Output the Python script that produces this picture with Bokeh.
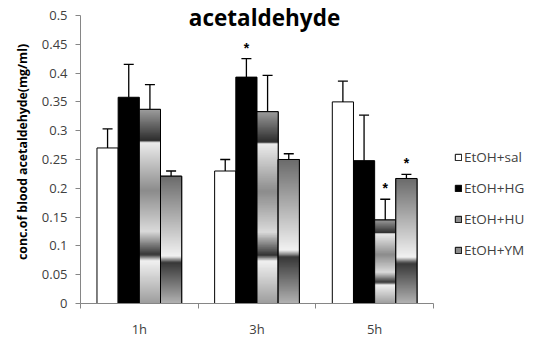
import numpy as np
from bokeh.plotting import figure
from bokeh.models import (FixedTicker, Label, Legend, LegendItem, Whisker,
                          ColumnDataSource, TeeHead)
from bokeh.embed import file_html
from bokeh.resources import INLINE

# ---- data ----
groups = ["1h", "3h", "5h"]
series = ["EtOH+sal", "EtOH+HG", "EtOH+HU", "EtOH+YM"]
sal = [0.270, 0.230, 0.350]
hg = [0.358, 0.393, 0.248]
hu = [0.337, 0.333, 0.145]
ym = [0.221, 0.250, 0.217]
sal_err = [0.033, 0.020, 0.036]
hg_err = [0.057, 0.032, 0.079]
hu_err = [0.043, 0.063, 0.036]
ym_err = [0.009, 0.010, 0.007]
# significance markers (*)
hg_sig = [False, True, False]
hu_sig = [False, False, True]
ym_sig = [False, False, True]
y_ticks = [0, 0.05, 0.1, 0.15, 0.2, 0.25, 0.3, 0.35, 0.4, 0.45, 0.5]
y_labels = ["0", "0.05", "0.1", "0.15", "0.2", "0.25", "0.3", "0.35", "0.4", "0.45", "0.5"]

values = [sal, hg, hu, ym]
errs = [sal_err, hg_err, hu_err, ym_err]
sigs = [[False] * 3, hg_sig, hu_sig, ym_sig]

# ---- style ----
bar_w = 0.18
offsets = [-0.27, -0.09, 0.09, 0.27]
fills = ["white", "black", "#8c8c8c", "#8c8c8c"]
axis_col = "#868686"
txt_col = "#404040"

# gradient profiles (fraction from top, grey level)
profiles = {
    2: [(0, 0.62), (0.16, 0.18), (0.17, 0.93), (0.42, 0.55), (0.63, 0.86),
        (0.75, 0.2), (0.78, 0.95), (1.0, 0.62)],
    3: [(0, 0.42), (0.63, 0.95), (0.68, 0.22), (1.0, 0.7)],
}


def grad_image(stops, n=300):
    t = np.linspace(0, 1, n)
    ts = [s[0] for s in stops]
    gs = [s[1] for s in stops]
    g = np.interp(t, ts, gs)[::-1]  # row 0 is bottom
    g8 = (g * 255).astype(np.uint32)
    img = (255 << 24) | (g8 << 16) | (g8 << 8) | g8
    return img.reshape(n, 1).astype(np.uint32)


# frame spans to the right/top edge so legend and title are inside it;
# axes are bounded to the data region.
p = figure(width=533, height=340, x_range=(0, 3.85), y_range=(0, 0.526),
           output_backend="svg", toolbar_location=None, title=None,
           min_border_left=80, min_border_right=0, min_border_top=0,
           min_border_bottom=37)
p.outline_line_color = None
p.xgrid.visible = False
p.ygrid.visible = False
p.background_fill_color = "white"

centers = np.arange(len(groups)) + 0.5
legend_items = []
for i, name in enumerate(series):
    xs = centers + offsets[i]
    src = ColumnDataSource(dict(x=xs, top=values[i],
                                upper=np.array(values[i]) + np.array(errs[i])))
    r = p.vbar(x="x", top="top", width=bar_w, source=src, fill_color=fills[i],
               line_color="black", line_width=1)
    legend_items.append(LegendItem(label=name, renderers=[r]))
    if i in profiles:
        img = grad_image(profiles[i])
        p.image_rgba(image=[img] * len(groups), x=list(xs - bar_w / 2),
                     y=[0] * len(groups), dw=[bar_w] * len(groups),
                     dh=list(values[i]))
        p.vbar(x="x", top="top", width=bar_w, source=src, fill_alpha=0,
               line_color="black", line_width=1)
    w = Whisker(base="x", lower="top", upper="upper", source=src,
                dimension="height", line_color="black", line_width=1.3,
                upper_head=TeeHead(size=10, line_color="black", line_width=1.3),
                lower_head=None)
    p.add_layout(w)
    sx = [x for x, s in zip(xs, sigs[i]) if s]
    sy = [u for u, s in zip(src.data["upper"], sigs[i]) if s]
    if sx:
        p.text(x=sx, y=sy, text=["*"] * len(sx), text_align="center",
               text_baseline="middle", y_offset=-11, text_font_size="14px",
               text_font_style="bold", text_color="black")

# axes
p.xaxis.bounds = (0, 3)
p.xaxis.ticker = FixedTicker(ticks=list(centers), minor_ticks=[0, 1, 2, 3])
p.xaxis.major_label_overrides = {float(c): g for c, g in zip(centers, groups)}
p.xaxis.major_tick_out = 0
p.xaxis.major_tick_in = 0
p.xaxis.minor_tick_out = 5
p.xaxis.minor_tick_in = 0
p.xaxis.minor_tick_line_color = axis_col
p.xaxis.axis_line_color = axis_col
p.xaxis.major_label_standoff = 11
p.xaxis.major_label_text_font_size = "13px"
p.xaxis.major_label_text_color = txt_col
p.xaxis.major_label_text_font = "Open Sans"

p.yaxis.bounds = (0, 0.5)
p.yaxis.ticker = FixedTicker(ticks=y_ticks, minor_ticks=[])
p.yaxis.major_label_overrides = {t: l for t, l in zip(y_ticks, y_labels)}
p.yaxis.major_tick_out = 5
p.yaxis.major_tick_in = 0
p.yaxis.major_tick_line_color = axis_col
p.yaxis.axis_line_color = axis_col
p.yaxis.major_label_text_font_size = "13px"
p.yaxis.major_label_text_color = txt_col
p.yaxis.major_label_text_font = "Open Sans"
p.yaxis.major_label_standoff = 8
p.yaxis.axis_label = "conc.of blood acetaldehyde(mg/ml)"
p.yaxis.axis_label_text_font = "Open Sans"
p.yaxis.axis_label_text_font_size = "12.3px"
p.yaxis.axis_label_text_font_style = "bold"
p.yaxis.axis_label_text_color = "black"
p.yaxis.axis_label_standoff = 8

title = Label(x=1.564, y=0.4965, text="acetaldehyde", text_align="center",
              text_baseline="middle", text_font="Open Sans",
              text_font_size="22.5px", text_font_style="bold", text_color="black")
p.add_layout(title)

legend = Legend(items=legend_items, location=(374, 44), orientation="vertical",
                glyph_width=8, glyph_height=8, label_height=18, spacing=13,
                label_standoff=2, padding=0, margin=0,
                border_line_color=None, background_fill_alpha=0,
                label_text_font="Open Sans", label_text_font_size="13.5px",
                label_text_color=txt_col)
p.add_layout(legend)

open("out.html", "w").write(file_html(p, INLINE))
